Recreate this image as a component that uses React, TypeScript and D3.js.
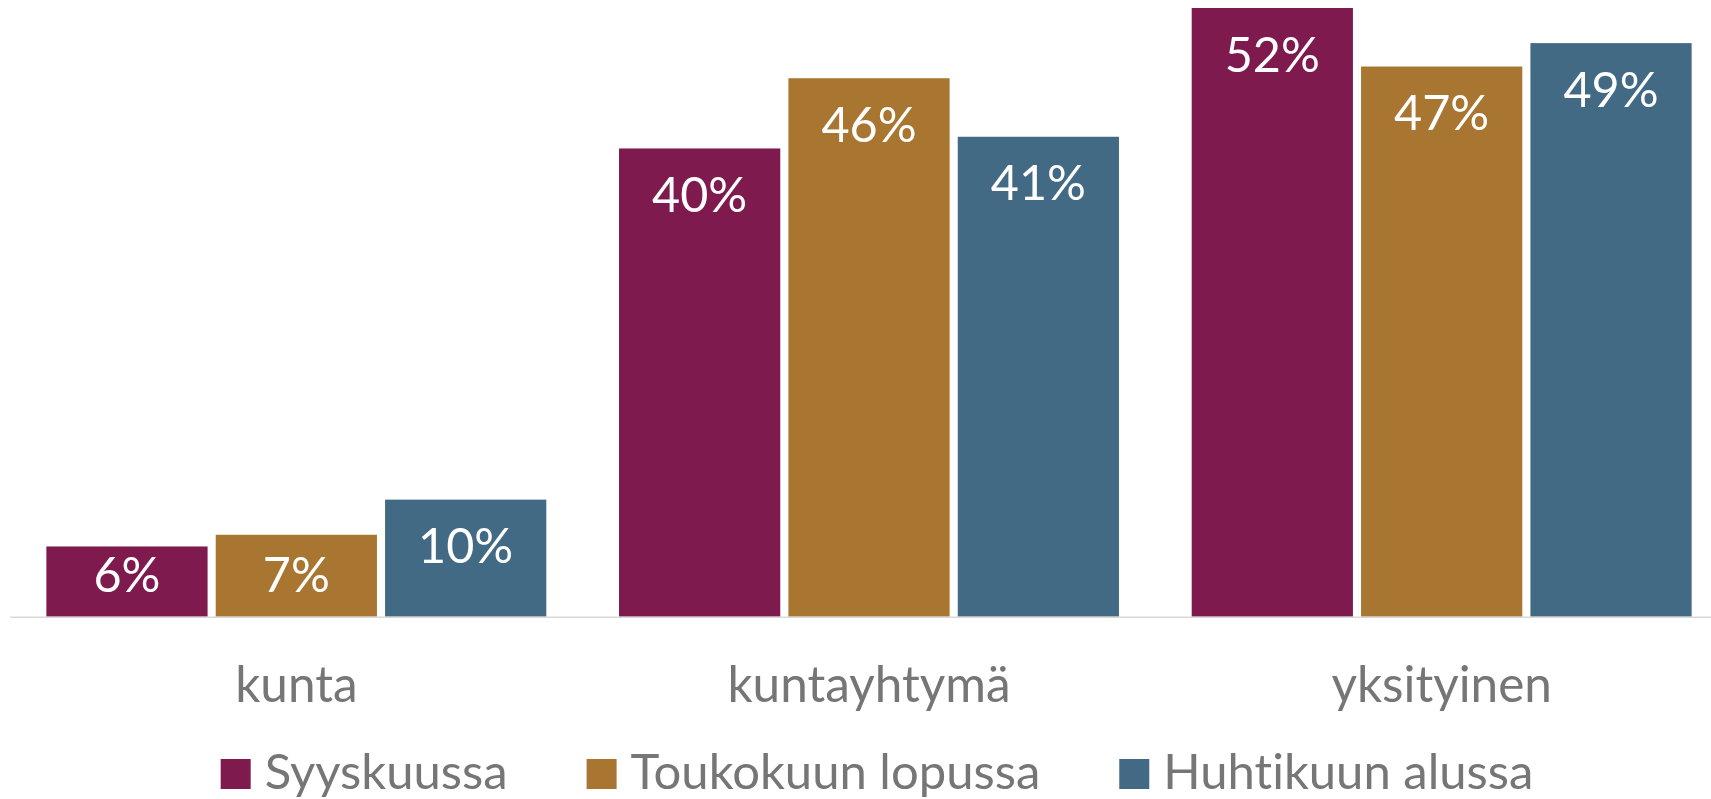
import React, { useEffect, useRef } from 'react'
import * as d3 from 'd3'

const categories = ['kunta', 'kuntayhtymä', 'yksityinen']
const seriesNames = ['Syyskuussa', 'Toukokuun lopussa', 'Huhtikuun alussa']
const syyskuussa = [6, 40, 52]
const toukokuunLopussa = [7, 46, 47]
const huhtikuunAlussa = [10, 41, 49]
const seriesColors = ['#7f1a4f', '#a97631', '#436a84']

const WIDTH = 1711
const HEIGHT = 799
const FONT = 'Lato, "Open Sans", sans-serif'
const TEXT_GRAY = '#767676'

const App = () => {
  const ref = useRef<SVGSVGElement>(null)

  useEffect(() => {
    const svg = d3.select(ref.current)
    svg.selectAll('*').remove()

    const values = [syyskuussa, toukokuunLopussa, huhtikuunAlussa]
    const rows = categories.map((category, i) => ({
      category,
      items: seriesNames.map((key, j) => ({ key, value: values[j][i], color: seriesColors[j] })),
    }))

    const x0 = d3.scaleBand()
      .domain(categories)
      .range([10, 1728])
      .paddingInner(0.127)
      .paddingOuter(0.0635)

    const x1 = d3.scaleBand()
      .domain(seriesNames)
      .range([0, x0.bandwidth()])
      .paddingInner(0.048)

    const y = d3.scaleLinear()
      .domain([0, 52])
      .range([616.7, 8])

    // bars
    const groups = svg.append('g')
      .selectAll('g')
      .data(rows)
      .join('g')
        .attr('transform', d => `translate(${x0(d.category)},0)`)

    groups.selectAll('rect')
      .data(d => d.items)
      .join('rect')
        .attr('x', d => x1(d.key))
        .attr('y', d => y(d.value))
        .attr('width', x1.bandwidth())
        .attr('height', d => y(0) - y(d.value))
        .attr('fill', d => d.color)

    // data labels, inside end (pushed up when the bar is short)
    groups.selectAll('text')
      .data(d => d.items)
      .join('text')
        .attr('x', d => x1(d.key) + x1.bandwidth() / 2)
        .attr('y', d => Math.min(y(d.value) + 63.5, y(0) - 25))
        .attr('text-anchor', 'middle')
        .attr('font-family', FONT)
        .attr('font-size', 48.5)
        .attr('fill', '#fff')
        .text(d => `${d.value}%`)

    // category axis
    svg.append('line')
      .attr('x1', 10)
      .attr('x2', WIDTH)
      .attr('y1', y(0) + 0.5)
      .attr('y2', y(0) + 0.5)
      .attr('stroke', '#d9d9d9')
      .attr('stroke-width', 1.5)

    svg.append('g')
      .selectAll('text')
      .data(categories)
      .join('text')
        .attr('x', d => x0(d) + x0.bandwidth() / 2)
        .attr('y', 702)
        .attr('text-anchor', 'middle')
        .attr('font-family', FONT)
        .attr('font-size', 49.5)
        .attr('fill', TEXT_GRAY)
        .text(d => d)

    // legend
    const legend = svg.append('g')
    let cx = 0
    seriesNames.forEach((name, i) => {
      const item = legend.append('g').attr('transform', `translate(${cx},0)`)
      item.append('rect')
        .attr('x', 0)
        .attr('y', 759)
        .attr('width', 30)
        .attr('height', 30)
        .attr('fill', seriesColors[i])
      const label = item.append('text')
        .attr('x', 44)
        .attr('y', 789)
        .attr('font-family', FONT)
        .attr('font-size', 49)
        .attr('fill', TEXT_GRAY)
        .style('font-variant-ligatures', 'none')
        .style('font-feature-settings', '"liga" 0')
        .text(name)
      const w = (label.node() as SVGTextElement).getComputedTextLength()
      cx += 44 + w + (i < seriesNames.length - 1 ? 79 : 0)
    })
    legend.attr('transform', `translate(${877 - cx / 2},0)`)
  }, [])

  return (
    <svg
      ref={ref}
      width={WIDTH}
      height={HEIGHT}
      style={{ position: 'absolute', left: 0, top: 0, background: '#fff' }}
    />
  )
}

export default App
